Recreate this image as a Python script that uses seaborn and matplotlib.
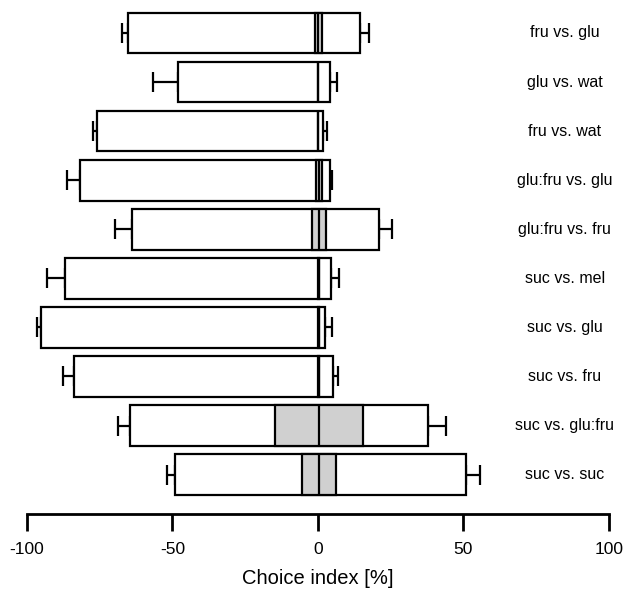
import matplotlib
matplotlib.use("Agg")
import matplotlib.pyplot as plt
import seaborn as sns
import numpy as np
import pandas as pd

labels = ["fru vs. glu", "glu vs. wat", "fru vs. wat", "glu:fru vs. glu",
          "glu:fru vs. fru", "suc vs. mel", "suc vs. glu", "suc vs. fru",
          "suc vs. glu:fru", "suc vs. suc"]
whisk_lo = [-67.5, -56.6, -77.4, -86.4, -69.9, -93.2, -96.7, -87.7, -68.7, -52.0]
box_lo = [-65.2, -48.2, -75.9, -81.8, -63.9, -87.0, -95.2, -83.8, -64.5, -49.0]
ci_lo = [-1.0, 0.0, 0.0, -0.6, -2.0, 0.0, 0.0, 0.0, -14.8, -5.3]
median = [0.2, 0.0, 0.0, 0.3, 0.3, 0.3, 0.3, 0.3, 0.3, 0.3]
ci_hi = [1.3, 0.0, 0.0, 1.3, 2.7, 0.3, 0.3, 0.3, 15.6, 6.1]
box_hi = [14.4, 4.1, 1.6, 4.2, 21.0, 4.5, 2.5, 5.1, 38.0, 50.9]
whisk_hi = [17.6, 6.4, 3.3, 5.0, 25.4, 7.3, 4.8, 6.9, 43.9, 55.7]
xticks = [-100, -50, 0, 50, 100]

df = pd.DataFrame(dict(label=labels, wlo=whisk_lo, blo=box_lo, clo=ci_lo,
                       med=median, chi=ci_hi, bhi=box_hi, whi=whisk_hi))
df["y"] = np.arange(len(df))

sns.set_style("ticks", {"axes.edgecolor": "black", "xtick.color": "black",
                        "text.color": "black", "axes.labelcolor": "black"})
plt.rcParams["font.family"] = ["Liberation Sans", "DejaVu Sans"]

fig = plt.figure(figsize=(6.27, 5.90), dpi=100)
ax = fig.add_axes([0.043, 0.129, 0.928, 0.865])

h = 0.83
lw = 1.6
# whiskers
ax.errorbar(df["blo"], df["y"], xerr=[df["blo"] - df["wlo"], np.zeros(len(df))],
            fmt="none", ecolor="black", elinewidth=lw, capsize=7.5, capthick=lw, zorder=1)
ax.errorbar(df["bhi"], df["y"], xerr=[np.zeros(len(df)), df["whi"] - df["bhi"]],
            fmt="none", ecolor="black", elinewidth=lw, capsize=7.5, capthick=lw, zorder=1)
# outer boxes
ax.barh(df["y"], df["bhi"] - df["blo"], left=df["blo"], height=h,
        color="white", edgecolor="black", linewidth=lw, zorder=2)
# confidence boxes
ax.barh(df["y"], df["chi"] - df["clo"], left=df["clo"], height=h,
        color="#d0d0d0", edgecolor="black", linewidth=lw, zorder=3)
# medians
ax.vlines(df["med"], df["y"] - h / 2, df["y"] + h / 2, color="black", linewidth=lw, zorder=4)

for y, lab in zip(df["y"], df["label"]):
    ax.text(84.9, y, lab, ha="center", va="center", fontsize=11.5, color="black")

ax.set_xlim(-100, 100)
ax.set_ylim(9.8, -0.6)
ax.set_xticks(xticks)
ax.set_xticklabels([str(t) for t in xticks], fontsize=12.5, color="black")
ax.set_yticks([])
ax.set_xlabel("Choice index [%]", fontsize=14.5, labelpad=9, color="black")
sns.despine(ax=ax, left=True, top=True, right=True)
ax.spines["bottom"].set_linewidth(2)
ax.spines["bottom"].set_color("black")
ax.tick_params(axis="x", width=2, length=12, direction="out", pad=8, color="black")

fig.savefig("out.png", dpi=100)
